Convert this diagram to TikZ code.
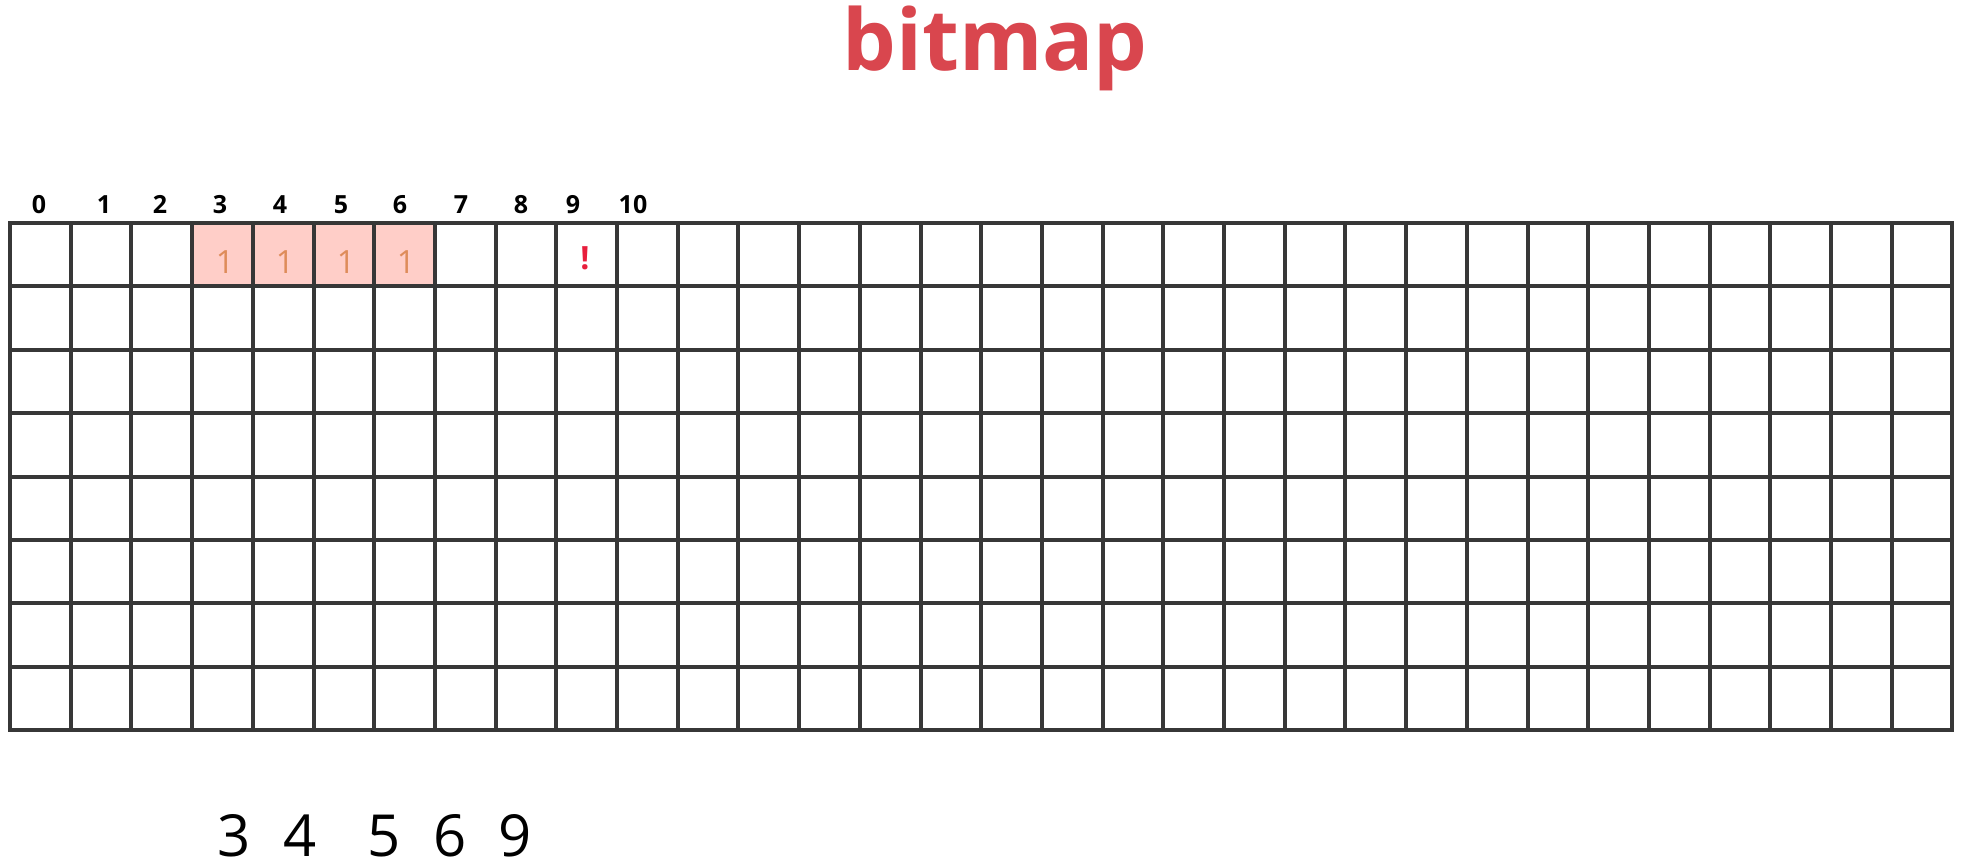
\documentclass[tikz,border=0pt]{standalone}
\usepackage{fontspec}
\setmainfont{Open Sans}
\definecolor{titlered}{RGB}{217,70,78}
\definecolor{gridgray}{RGB}{55,55,55}
\definecolor{cellpink}{RGB}{255,206,200}
\definecolor{oneorange}{RGB}{222,140,90}
\definecolor{markred}{RGB}{232,30,60}
\tikzset{
  toplabel/.style={anchor=base, inner sep=0pt, font=\fontsize{12.5}{14}\selectfont\bfseries},
  onelabel/.style={anchor=base, inner sep=0pt, text=oneorange, font=\fontsize{16}{18}\selectfont},
  bottomnum/.style={anchor=base, inner sep=0pt, text depth=0pt, font=\fontsize{29}{32}\selectfont},
  gridline/.style={draw=gridgray, line width=2pt, line cap=rect},
}
\begin{document}
\begin{tikzpicture}[x=0.5pt, y=-0.5pt]
\useasboundingbox (0,0) rectangle (1967,864);
\fill[white] (0,0) rectangle (1967,864);
% title
\node[anchor=base, inner sep=0pt, text=titlered, font=\fontsize{42.5}{46}\selectfont\bfseries] (title) at (995,70) {bitmap};
% highlighted cells
\foreach \c in {3,...,6}{
  \fill[cellpink] ({10+60.7*\c},223) rectangle ({10+60.7*(\c+1)},286.4);
}
% grid
\foreach \c in {0,...,32}{
  \draw[gridline] ({10+60.7*\c},223) -- ({10+60.7*\c},730);
}
\foreach \r in {0,...,8}{
  \draw[gridline] (10,{223+63.375*\r}) -- (1952.4,{223+63.375*\r});
}
% column labels
\node[toplabel] (l0) at (39,213) {0};
\node[toplabel] (l1) at (104,213) {1};
\node[toplabel] (l2) at (160,213) {2};
\node[toplabel] (l3) at (220,213) {3};
\node[toplabel] (l4) at (280,213) {4};
\node[toplabel] (l5) at (341,213) {5};
\node[toplabel] (l6) at (400,213) {6};
\node[toplabel] (l7) at (461,213) {7};
\node[toplabel] (l8) at (521,213) {8};
\node[toplabel] (l9) at (573,213) {9};
\node[toplabel] (l10) at (633,213) {10};
% ones
\node[onelabel] (o3) at (225,273) {1};
\node[onelabel] (o4) at (285,273) {1};
\node[onelabel] (o5) at (346,273) {1};
\node[onelabel] (o6) at (406,273) {1};
\node[anchor=base, inner sep=0pt, text=markred, font=\fontsize{16}{18}\selectfont\bfseries] (mark) at (585,269) {!};
% bottom numbers
\node[bottomnum] (b3) at (234,856) {3};
\node[bottomnum] (b4) at (300,856) {4};
\node[bottomnum] (b5) at (384,856) {5};
\node[bottomnum] (b6) at (450,856) {6};
\node[bottomnum] (b9) at (515,856) {9};
\end{tikzpicture}
\end{document}
